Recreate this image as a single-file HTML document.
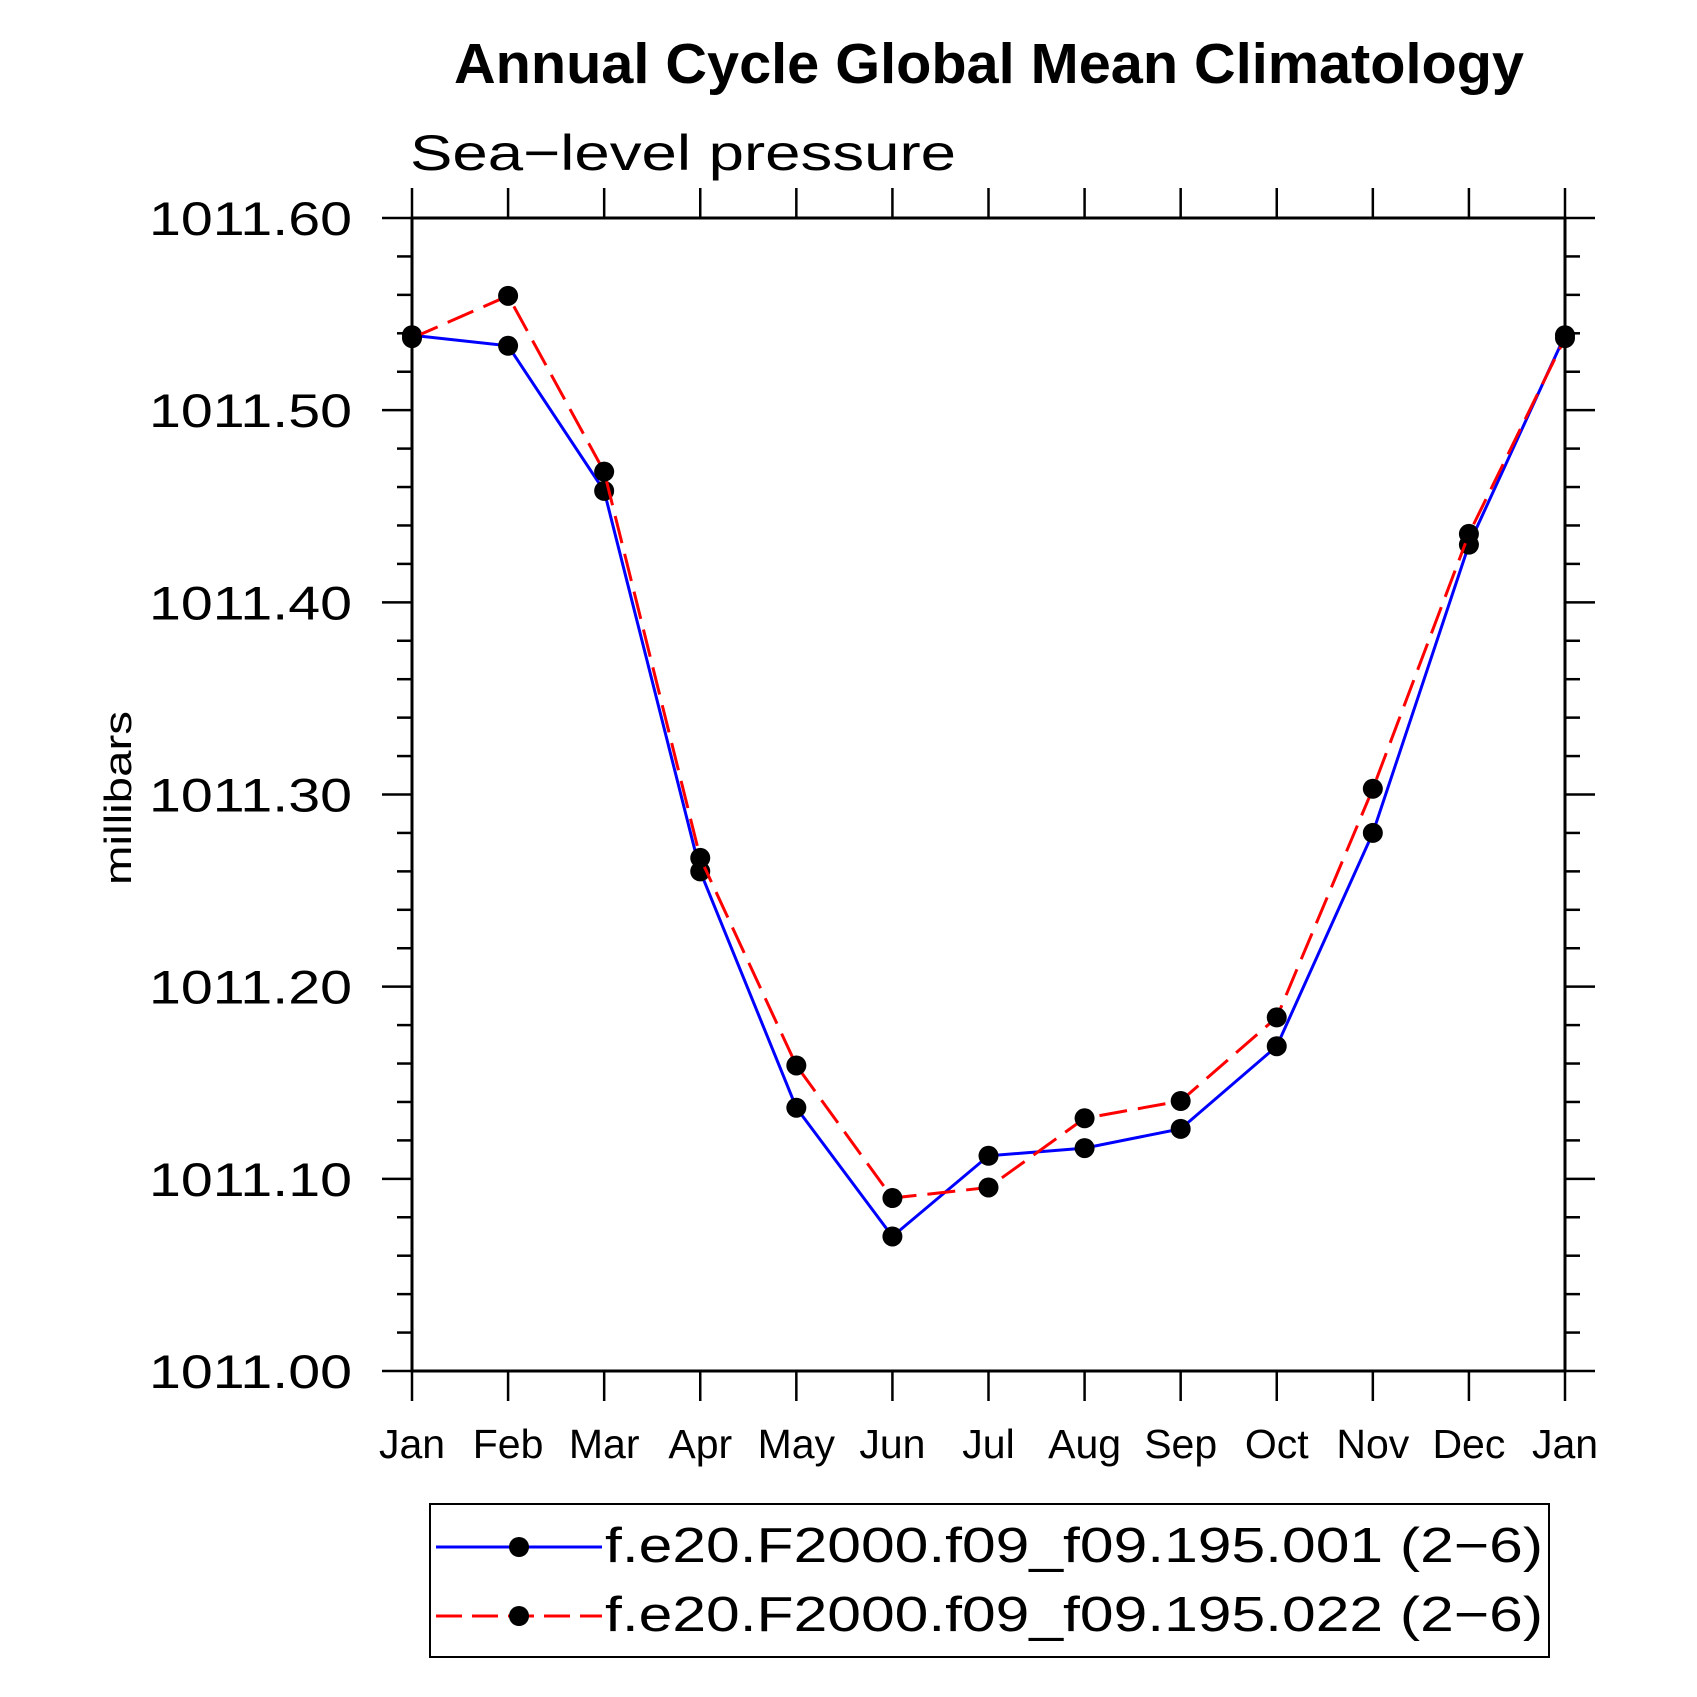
<!DOCTYPE html>
<html><head><meta charset="utf-8"><style>
html,body{margin:0;padding:0;background:#fff;}
svg{display:block;}
text{font-family:"Liberation Sans",sans-serif;}
</style></head><body>
<svg id="chart" width="1697" height="1697" viewBox="0 0 1697 1697" xmlns="http://www.w3.org/2000/svg"></svg>
<script>
const months = ["Jan","Feb","Mar","Apr","May","Jun","Jul","Aug","Sep","Oct","Nov","Dec","Jan"];
const seriesBlue = [1011.539,1011.5335,1011.458,1011.260,1011.137,1011.070,1011.112,1011.116,1011.126,1011.169,1011.280,1011.430,1011.539];
const seriesRed = [1011.5375,1011.5595,1011.468,1011.267,1011.159,1011.090,1011.0955,1011.1315,1011.1405,1011.184,1011.303,1011.4356,1011.5375];
const yTicks = [1011.00,1011.10,1011.20,1011.30,1011.40,1011.50,1011.60];
const yTickLabels = ["1011.00","1011.10","1011.20","1011.30","1011.40","1011.50","1011.60"];
const legendLabels = ["f.e20.F2000.f09_f09.195.001 (2\u22126)","f.e20.F2000.f09_f09.195.022 (2\u22126)"];

const NS="http://www.w3.org/2000/svg";
const svg=document.getElementById('chart');
const L=412,R=1565,T=218,B=1371;
const yMin=1011.0,yMax=1011.6;
function xs(i){return L+(R-L)*i/(months.length-1);}
function ys(v){return B-(B-T)*(v-yMin)/(yMax-yMin);}
function mk(tag,attrs,parent){const e=document.createElementNS(NS,tag);for(const k in attrs)e.setAttribute(k,attrs[k]);(parent||svg).appendChild(e);return e;}

let t=mk('text',{x:989,y:83,'text-anchor':'middle','font-size':57,'font-weight':'bold',textLength:1070,lengthAdjust:'spacingAndGlyphs'});
t.textContent='Annual Cycle Global Mean Climatology';


t=mk('text',{x:410,y:170,'font-size':50,textLength:546,lengthAdjust:'spacingAndGlyphs'});
t.textContent='Sea\u2212level pressure';


t=mk('text',{x:0,y:0,'font-size':38,'text-anchor':'middle',textLength:174,lengthAdjust:'spacingAndGlyphs',transform:'translate(131,798) rotate(-90)'});
t.textContent='millibars';



let fr=mk('rect',{x:L,y:T,width:R-L,height:B-T,fill:'none',stroke:'#000','stroke-width':3});



const yg=mk('g',{stroke:'#000','stroke-width':2.5});


for(let v=0;v<=30;v++){
  const y=ys(yMin+v*0.02);
  const len=(v%5===0)?30:15;
  mk('line',{x1:L-len,y1:y,x2:L,y2:y},yg);
  mk('line',{x1:R,y1:y,x2:R+len,y2:y},yg);
}
yTicks.forEach((v,i)=>{
  const tx=mk('text',{x:352,y:ys(v)+17,'text-anchor':'end','font-size':47,textLength:203,lengthAdjust:'spacingAndGlyphs'});
  tx.textContent=yTickLabels[i];
  
  
});
const xg=mk('g',{stroke:'#000','stroke-width':2.5});


months.forEach((m,i)=>{
  const x=xs(i);
  mk('line',{x1:x,y1:B,x2:x,y2:B+30},xg);
  mk('line',{x1:x,y1:T-30,x2:x,y2:T},xg);
  const tx=mk('text',{x:x,y:1458,'text-anchor':'middle','font-size':41});
  tx.textContent=m;
  
  
});

function drawSeries(vals,color,dash,name){
  const g=mk('g',{});
  
  
  const pts=vals.map((v,i)=>xs(i)+','+ys(v)).join(' ');
  const a={points:pts,fill:'none',stroke:color,'stroke-width':3};
  if(dash)a['stroke-dasharray']=dash;
  mk('polyline',a,g);
  vals.forEach((v,i)=>{
    const c=mk('circle',{cx:xs(i),cy:ys(v),r:10,fill:'#000'},g);
    
    
  });
}
drawSeries(seriesBlue,'#0000ff',null,'series-195-001');
drawSeries(seriesRed,'#ff0000','28 11','series-195-022');

const lg=mk('g',{});


mk('rect',{x:430,y:1504,width:1119,height:153,fill:'none',stroke:'#000','stroke-width':2},lg);
const ly=[1547,1616],lc=['#0000ff','#ff0000'],ld=[null,'26 10'];
legendLabels.forEach((lab,i)=>{
  const e=mk('g',{},lg);
  
  
  const a={x1:436,y1:ly[i],x2:602,y2:ly[i],stroke:lc[i],'stroke-width':3};
  if(ld[i])a['stroke-dasharray']=ld[i];
  mk('line',a,e);
  mk('circle',{cx:519,cy:ly[i],r:10,fill:'#000'},e);
  const tx=mk('text',{x:605,y:ly[i]+15,'font-size':49,textLength:938,lengthAdjust:'spacingAndGlyphs'},e);
  tx.textContent=lab;
});
</script>
</body></html>
